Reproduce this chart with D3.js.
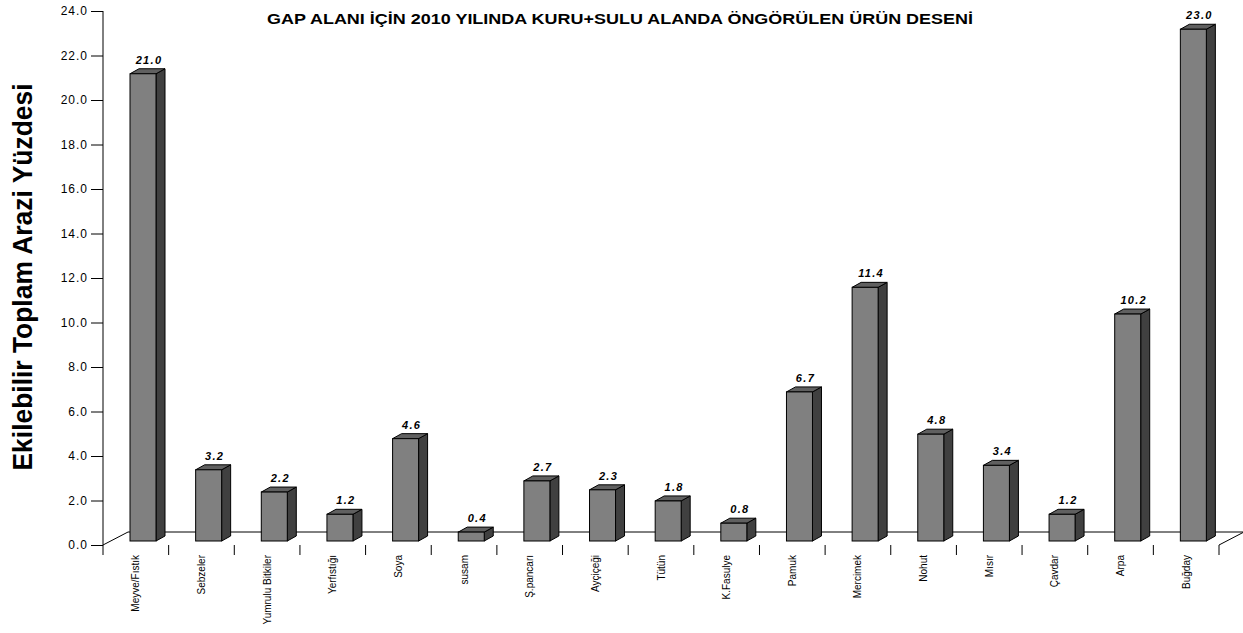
<!DOCTYPE html>
<html>
<head>
<meta charset="utf-8">
<script src="https://cdn.jsdelivr.net/npm/d3@7"></script>
<style>
  html, body { margin: 0; padding: 0; background: #fff; }
  svg { display: block; font-family: Arial, "Liberation Sans", sans-serif; }
</style>
</head>
<body>
<svg id="chart" width="1243" height="633"></svg>
<script>
// Crop pattern for the GAP region, 2010 (dry + irrigated land)
const categories = [
  "Meyve/Fıstık", "Sebzeler", "Yumrulu Bitkiler", "Yerfıstığı", "Soya", "susam",
  "Ş.pancarı", "Ayçiçeği", "Tütün", "K.Fasulye", "Pamuk", "Mercimek",
  "Nohut", "Mısır", "Çavdar", "Arpa", "Buğday"
];
const shares = [21.0, 3.2, 2.2, 1.2, 4.6, 0.4, 2.7, 2.3, 1.8, 0.8, 6.7, 11.4, 4.8, 3.4, 1.2, 10.2, 23.0];
const yTicks = [0, 2, 4, 6, 8, 10, 12, 14, 16, 18, 20, 22, 24];

const chartTitle = "GAP ALANI İÇİN 2010 YILINDA KURU+SULU ALANDA ÖNGÖRÜLEN ÜRÜN DESENİ";
const yTitle = "Ekilebilir Toplam Arazi Yüzdesi";

const svg = d3.select("#chart");

const plotLeft = 103, plotRight = 1219, plotBottom = 545, plotTop = 11;
const floorDx = 25, floorDy = -13;   // depth of the floor plane
const barDx = 9, barDy = -5;         // depth of each bar
const barLift = 4;                   // bars stand slightly behind the front edge

const x = d3.scaleBand().domain(categories).range([plotLeft, plotRight]).paddingInner(0).paddingOuter(0);
const y = d3.scaleLinear().domain([0, 24]).range([plotBottom, plotTop]);

// floor
svg.append("path")
  .attr("fill", "none").attr("stroke", "#000").attr("stroke-width", 1)
  .attr("d", `M${plotLeft},${plotBottom} L${plotLeft + floorDx},${plotBottom + floorDy} L${plotRight + floorDx},${plotBottom + floorDy} L${plotRight},${plotBottom}`);

// bars
const barW = 26, barOffset = 27;
const bars = svg.append("g").selectAll("g").data(categories).join("g");
bars.each(function (c, i) {
  const g = d3.select(this);
  const x0 = x(c) + barOffset, x1 = x0 + barW;
  const yb = y(0) - barLift, yt = y(shares[i]) - barLift;
  // side
  g.append("path")
    .attr("d", `M${x1},${yb} L${x1 + barDx},${yb + barDy} L${x1 + barDx},${yt + barDy} L${x1},${yt} Z`)
    .attr("fill", "#404040").attr("stroke", "#000").attr("stroke-width", 1).attr("stroke-linejoin", "round");
  // top
  g.append("path")
    .attr("d", `M${x0},${yt} L${x0 + barDx},${yt + barDy} L${x1 + barDx},${yt + barDy} L${x1},${yt} Z`)
    .attr("fill", "#606060").attr("stroke", "#000").attr("stroke-width", 1).attr("stroke-linejoin", "round");
  // front
  g.append("rect")
    .attr("x", x0).attr("y", yt).attr("width", barW).attr("height", yb - yt)
    .attr("fill", "#808080").attr("stroke", "#000").attr("stroke-width", 1);
  // value label
  g.append("text")
    .attr("x", x0 + barW / 2 + 6).attr("y", yt + barDy - 5)
    .attr("text-anchor", "middle")
    .attr("font-size", 11).attr("font-weight", "bold").attr("font-style", "italic")
    .attr("letter-spacing", "1.3px")
    .text(shares[i].toFixed(1));
});

// value axis
const yAxis = svg.append("g").attr("transform", `translate(${plotLeft},0)`)
  .call(d3.axisLeft(y).tickValues(yTicks).tickSize(12).tickPadding(3).tickFormat(d3.format(".1f")));
yAxis.attr("font-family", null);
yAxis.select(".domain").attr("d", `M0,${plotTop}V${plotBottom}`);
yAxis.selectAll("text").attr("font-size", 12).attr("letter-spacing", "1px").attr("fill", "#000");

// category axis: boundary ticks and rotated names
const bounds = categories.map(c => x(c)).concat([plotRight]);
svg.append("g").selectAll("line").data(bounds).join("line")
  .attr("x1", d => d).attr("x2", d => d).attr("y1", plotBottom).attr("y2", plotBottom + 10)
  .attr("stroke", "#000");
svg.append("g").selectAll("text").data(categories).join("text")
  .attr("transform", d => `translate(${x(d) + x.bandwidth() / 2},${plotBottom + 10}) rotate(-90)`)
  .attr("dy", "0.35em")
  .attr("text-anchor", "end")
  .attr("font-size", 10)
  .text(d => d);

// titles
svg.append("text")
  .attr("x", 620).attr("y", 24)
  .attr("text-anchor", "middle")
  .attr("font-size", 14).attr("font-weight", "bold")
  .attr("textLength", 706).attr("lengthAdjust", "spacingAndGlyphs")
  .text(chartTitle);

svg.append("text")
  .attr("transform", "translate(32,277) rotate(-90)")
  .attr("text-anchor", "middle")
  .attr("font-size", 27).attr("font-weight", "bold")
  .attr("textLength", 387).attr("lengthAdjust", "spacingAndGlyphs")
  .text(yTitle);
</script>
</body>
</html>
